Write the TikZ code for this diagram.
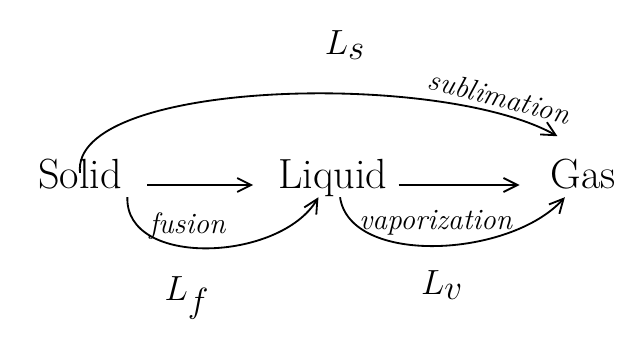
\documentclass[tikz,border=0pt]{standalone}
\usetikzlibrary{positioning,arrows.meta}
\begin{document}
\begin{tikzpicture}[x=0.025cm,y=-0.025cm,line width=1.3pt,
        >={Straight Barb[length=3.5mm,width=3.5mm]},
        phase/.style={font=\fontsize{30}{36}\selectfont,text height=0.72em,text depth=0.22em},
        heat/.style={font=\fontsize{42}{48}\selectfont},
        proc/.style={font=\fontsize{21}{25}\selectfont\itshape,inner sep=2pt}]
        \useasboundingbox (0,0) rectangle (630,360);
        \node[phase] (solid) at (80,185) {Solid};
        \node[phase] (liquid) at (333,185) {Liquid};
        \node[phase] (gas) at (583,185) {Gas};
        \node[heat] (ls) at (345,45) {$L_s$};
        \node[heat] (lf) at (187,298) {$L_f$};
        \node[heat] (lv) at (442,285) {$L_v$};
        \draw[->,shorten <=14pt,shorten >=14pt] (solid) -- (liquid);
        \draw[->,shorten <=4pt,shorten >=18pt] (liquid) -- (gas);
        \draw[->] (solid.north) .. controls (70,80) and (440,70) .. ([xshift=9pt,yshift=26pt]gas.north west)
            node[pos=0.86,sloped,above=2pt,proc] {sublimation};
        \draw[->] (solid.south east) .. controls (125,268) and (280,262) .. (liquid.220)
            node[pos=0.42,above=3pt,proc] {fusion};
        \draw[->] (liquid.300) .. controls (350,266) and (510,258) .. (gas.214)
            node[pos=0.5,above=5pt,proc] {vaporization};
    \end{tikzpicture}
\end{document}
